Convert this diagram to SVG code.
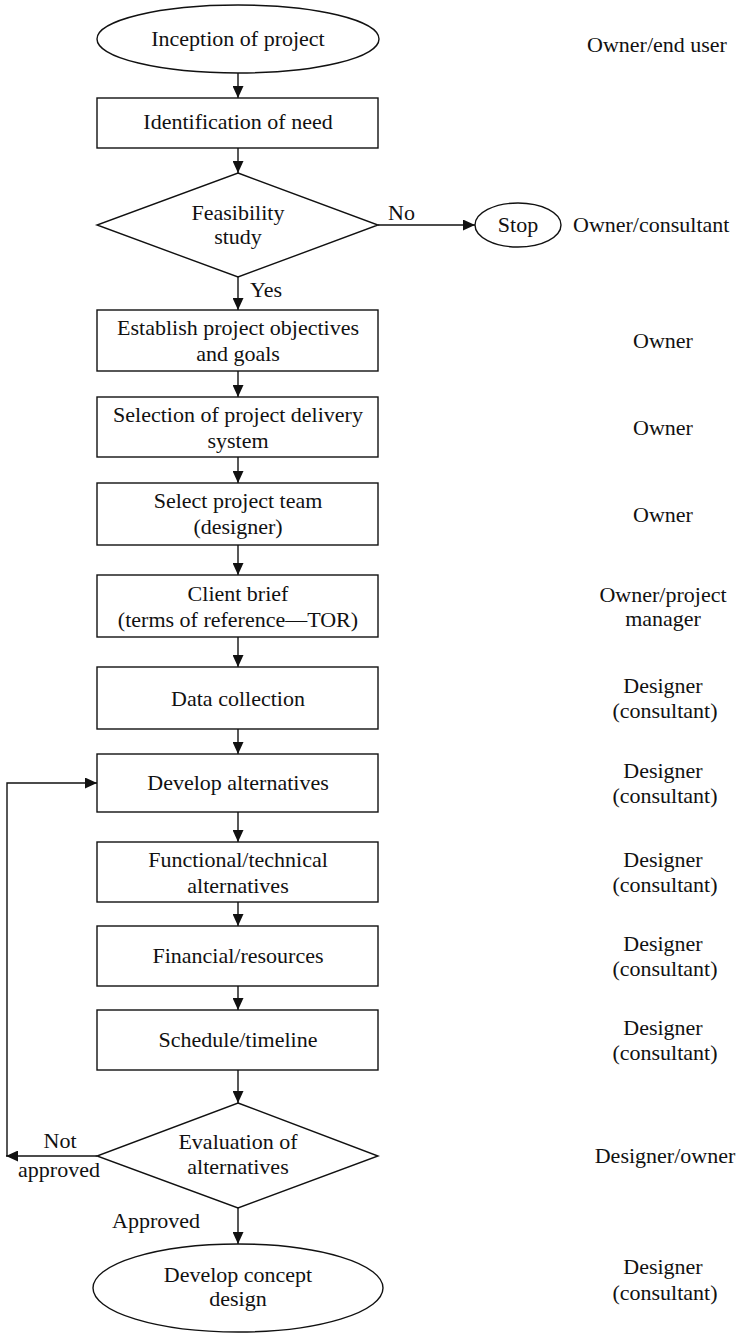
<svg xmlns="http://www.w3.org/2000/svg" width="749" height="1333" viewBox="0 0 749 1333">
  <defs>
    <marker id="arrow" markerUnits="userSpaceOnUse" markerWidth="12" markerHeight="11" refX="12" refY="5.5" orient="auto">
      <path d="M0,0 L12,5.5 L0,11 Z" fill="#111"/>
    </marker>
    <style>
      .shape { fill: #fff; stroke: #111; stroke-width: 1.4; }
      .conn { fill: none; stroke: #111; stroke-width: 1.4; marker-end: url(#arrow); }
      .line { fill: none; stroke: #111; stroke-width: 1.4; }
      text { font-family: "Liberation Serif", "Times New Roman", serif; font-size: 22px; fill: #111; }
      .c { text-anchor: middle; }
    </style>
  </defs>
  <rect width="749" height="1333" fill="#fff"/>

  <!-- connectors -->
  <g id="connectors">
    <line class="conn" x1="238" y1="73" x2="238" y2="98"/>
    <line class="conn" x1="238" y1="148" x2="238" y2="173"/>
    <line class="conn" x1="378" y1="225" x2="475" y2="225"/>
    <line class="conn" x1="238" y1="277" x2="238" y2="310"/>
    <line class="conn" x1="238" y1="371" x2="238" y2="397"/>
    <line class="conn" x1="238" y1="457" x2="238" y2="483"/>
    <line class="conn" x1="238" y1="545" x2="238" y2="575"/>
    <line class="conn" x1="238" y1="637" x2="238" y2="667"/>
    <line class="conn" x1="238" y1="729" x2="238" y2="754"/>
    <line class="conn" x1="238" y1="812" x2="238" y2="842"/>
    <line class="conn" x1="238" y1="902" x2="238" y2="926"/>
    <line class="conn" x1="238" y1="986" x2="238" y2="1010"/>
    <line class="conn" x1="238" y1="1070" x2="238" y2="1103"/>
    <line class="conn" x1="238" y1="1208" x2="238" y2="1244"/>
    <!-- rejection loop back to the alternatives step -->
    <line class="conn" x1="97" y1="1156" x2="6" y2="1156"/>
    <polyline class="conn" points="7,1156 7,783 97,783"/>
    <text x="388" y="220">No</text>
    <text x="250" y="297">Yes</text>
    <text class="c" x="60" y="1148">Not</text>
    <text class="c" x="59" y="1177">approved</text>
    <text x="112" y="1228">Approved</text>
  </g>

  <g id="inception">
    <ellipse class="shape" cx="238" cy="39" rx="141" ry="34"/>
    <text class="c" x="238" y="46">Inception of project</text>
  </g>
  <g id="identification">
    <rect class="shape" x="97" y="98" width="281" height="50"/>
    <text class="c" x="238" y="129">Identification of need</text>
  </g>
  <g id="feasibility">
    <polygon class="shape" points="238,173 378,225 238,277 97,225"/>
    <text class="c" x="238" y="220">Feasibility</text>
    <text class="c" x="238" y="244">study</text>
  </g>
  <g id="stop">
    <ellipse class="shape" cx="518" cy="225" rx="43" ry="22"/>
    <text class="c" x="518" y="232">Stop</text>
  </g>
  <g id="objectives">
    <rect class="shape" x="97" y="310" width="281" height="61"/>
    <text class="c" x="238" y="335">Establish project objectives</text>
    <text class="c" x="238" y="361">and goals</text>
  </g>
  <g id="delivery">
    <rect class="shape" x="97" y="397" width="281" height="60"/>
    <text class="c" x="238" y="422">Selection of project delivery</text>
    <text class="c" x="238" y="448">system</text>
  </g>
  <g id="team">
    <rect class="shape" x="97" y="483" width="281" height="62"/>
    <text class="c" x="238" y="508">Select project team</text>
    <text class="c" x="238" y="534">(designer)</text>
  </g>
  <g id="brief">
    <rect class="shape" x="97" y="575" width="281" height="62"/>
    <text class="c" x="238" y="601">Client brief</text>
    <text class="c" x="238" y="627">(terms of reference—TOR)</text>
  </g>
  <g id="data">
    <rect class="shape" x="97" y="667" width="281" height="62"/>
    <text class="c" x="238" y="706">Data collection</text>
  </g>
  <g id="alternatives">
    <rect class="shape" x="97" y="754" width="281" height="58"/>
    <text class="c" x="238" y="790">Develop alternatives</text>
  </g>
  <g id="functional">
    <rect class="shape" x="97" y="842" width="281" height="60"/>
    <text class="c" x="238" y="867">Functional/technical</text>
    <text class="c" x="238" y="893">alternatives</text>
  </g>
  <g id="financial">
    <rect class="shape" x="97" y="926" width="281" height="60"/>
    <text class="c" x="238" y="963">Financial/resources</text>
  </g>
  <g id="schedule">
    <rect class="shape" x="97" y="1010" width="281" height="60"/>
    <text class="c" x="238" y="1047">Schedule/timeline</text>
  </g>
  <g id="evaluation">
    <polygon class="shape" points="238,1103 378,1156 238,1208 97,1156"/>
    <text class="c" x="238" y="1149">Evaluation of</text>
    <text class="c" x="238" y="1174">alternatives</text>
  </g>
  <g id="concept">
    <ellipse class="shape" cx="238" cy="1288" rx="145" ry="44"/>
    <text class="c" x="238" y="1282">Develop concept</text>
    <text class="c" x="238" y="1306">design</text>
  </g>

  <!-- responsible party for each step -->
  <g id="roles">
    <text class="c" x="657" y="52">Owner/end user</text>
    <text x="573" y="232">Owner/consultant</text>
    <text class="c" x="663" y="348">Owner</text>
    <text class="c" x="663" y="435">Owner</text>
    <text class="c" x="663" y="522">Owner</text>
    <text class="c" x="663" y="602">Owner/project</text>
    <text class="c" x="663" y="626">manager</text>
    <text class="c" x="663" y="693">Designer</text>
    <text class="c" x="665" y="718">(consultant)</text>
    <text class="c" x="663" y="778">Designer</text>
    <text class="c" x="665" y="803">(consultant)</text>
    <text class="c" x="663" y="867">Designer</text>
    <text class="c" x="665" y="892">(consultant)</text>
    <text class="c" x="663" y="951">Designer</text>
    <text class="c" x="665" y="976">(consultant)</text>
    <text class="c" x="663" y="1035">Designer</text>
    <text class="c" x="665" y="1060">(consultant)</text>
    <text class="c" x="665" y="1163">Designer/owner</text>
    <text class="c" x="663" y="1274">Designer</text>
    <text class="c" x="665" y="1300">(consultant)</text>
  </g>
</svg>
